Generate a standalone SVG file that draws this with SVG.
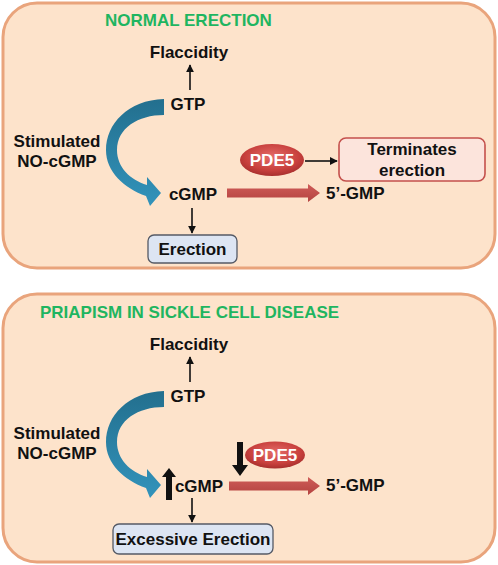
<svg xmlns="http://www.w3.org/2000/svg" width="498" height="565" viewBox="0 0 498 565">
<defs>
<style>
.panel{fill:#fde3cb;stroke:#e9a47c;stroke-width:3}
.t{font-family:"Liberation Sans",Arial,sans-serif;font-weight:bold;font-size:17px;fill:#111}
.mid{text-anchor:middle}
.title{font-family:"Liberation Sans",Arial,sans-serif;font-weight:bold;font-size:17px;fill:#1fb560}
.pde{font-family:"Liberation Sans",Arial,sans-serif;font-weight:bold;font-size:17px;fill:#fff;text-anchor:middle}
.thin{stroke:#111;stroke-width:1.6;fill:none;marker-end:url(#ah)}
.bluebox{fill:#dde5f3;stroke:#555a66;stroke-width:1.3}
.redbox{fill:#fce4dc;stroke:#c4504c;stroke-width:1.6}
.blue{fill:url(#bg)}
.red{fill:url(#rg)}
.ell{fill:url(#pg)}
.blk{fill:#111}
</style>
<marker id="ah" viewBox="0 0 10 10" refX="9" refY="5" markerWidth="5" markerHeight="5" markerUnits="strokeWidth" orient="auto">
<path d="M0,0 L10,5 L0,10 Z" fill="#111"/>
</marker>
<linearGradient id="bg" x1="0" y1="0" x2="0" y2="1">
<stop offset="0" stop-color="#236f8e"/>
<stop offset="1" stop-color="#3293bb"/>
</linearGradient>
<linearGradient id="rg" x1="0" y1="0" x2="0" y2="1">
<stop offset="0" stop-color="#cf5c58"/>
<stop offset="1" stop-color="#b44340"/>
</linearGradient>
<radialGradient id="pg" cx="0.5" cy="0.4" r="0.6">
<stop offset="0" stop-color="#e46c68"/>
<stop offset="0.7" stop-color="#c8403d"/>
<stop offset="1" stop-color="#a8302e"/>
</radialGradient>
</defs>

<g id="panel-normal">
<rect class="panel" x="3" y="3" width="492" height="265" rx="34"/>
<text class="title" x="105" y="26">NORMAL ERECTION</text>
</g>
<g id="panel-priapism">
<rect class="panel" x="3" y="294" width="492" height="268" rx="34"/>
<text class="title" x="40" y="318">PRIAPISM IN SICKLE CELL DISEASE</text>
</g>

<g id="n1-flaccidity"><text class="t mid" x="189" y="58">Flaccidity</text></g>
<g id="n1-gtp"><text class="t mid" x="188" y="110">GTP</text></g>
<g id="n1-stim"><text class="t mid" x="57" y="147">Stimulated</text><text class="t mid" x="57" y="167">NO-cGMP</text></g>
<g id="n1-cgmp"><text class="t mid" x="193" y="200">cGMP</text></g>
<g id="n1-erection"><rect class="bluebox" x="148" y="235" width="89" height="28" rx="6"/><text class="t mid" x="192.5" y="255">Erection</text></g>
<g id="n1-pde5"><ellipse class="ell" cx="272" cy="160" rx="32" ry="16"/><text class="pde" x="272" y="166">PDE5</text></g>
<g id="n1-terminates"><rect class="redbox" x="339" y="138" width="146" height="43" rx="7"/><text class="t mid" x="412" y="155">Terminates</text><text class="t mid" x="412" y="176">erection</text></g>
<g id="n1-5gmp"><text class="t" x="326" y="199">5’-GMP</text></g>

<g id="n2-flaccidity"><text class="t mid" x="189" y="350">Flaccidity</text></g>
<g id="n2-gtp"><text class="t mid" x="188" y="402">GTP</text></g>
<g id="n2-stim"><text class="t mid" x="57" y="439">Stimulated</text><text class="t mid" x="57" y="459">NO-cGMP</text></g>
<g id="n2-cgmp"><text class="t mid" x="199" y="492">cGMP</text></g>
<g id="n2-excessive"><rect class="bluebox" x="113" y="524" width="160" height="30" rx="6"/><text class="t mid" x="193" y="545">Excessive Erection</text></g>
<g id="n2-pde5"><ellipse class="ell" cx="275" cy="455" rx="30" ry="13.5"/><text class="pde" x="275" y="461">PDE5</text></g>
<g id="n2-5gmp"><text class="t" x="326" y="491">5’-GMP</text></g>

<g id="connectors">
<line class="thin" x1="190" y1="90" x2="190" y2="65"/>
<path class="blue" d="M164,99 C128,100 106,124 106,150 C106,172 124,188 146,196 L150,206 L161,193 L147,177 L147,185 C130,180 117,167 117,150 C117,128 138,115 164,115 Z"/>
<line class="thin" x1="192" y1="208" x2="192" y2="233"/>
<line class="thin" x1="305" y1="161" x2="337" y2="161"/>
<path class="red" d="M227,188.5 L308,188.5 L308,184 L320,193 L308,202 L308,197.5 L227,197.5 Z"/>

<line class="thin" x1="190" y1="382" x2="190" y2="357"/>
<path class="blue" d="M164,391 C128,392 106,416 106,442 C106,464 124,480 146,488 L150,498 L161,485 L147,469 L147,477 C130,472 117,459 117,442 C117,420 138,407 164,407 Z"/>
<line class="thin" x1="192" y1="498" x2="192" y2="522"/>
<path class="red" d="M229,481.5 L308,481.5 L308,477 L320,486 L308,495 L308,490.5 L229,490.5 Z"/>
<path class="blk" d="M166,500 L166,477 L162,477 L169,468 L176,477 L172,477 L172,500 Z"/>
<path class="blk" d="M237,442 L243,442 L243,465 L248,465 L240,476 L232,465 L237,465 Z"/>
</g>
</svg>
